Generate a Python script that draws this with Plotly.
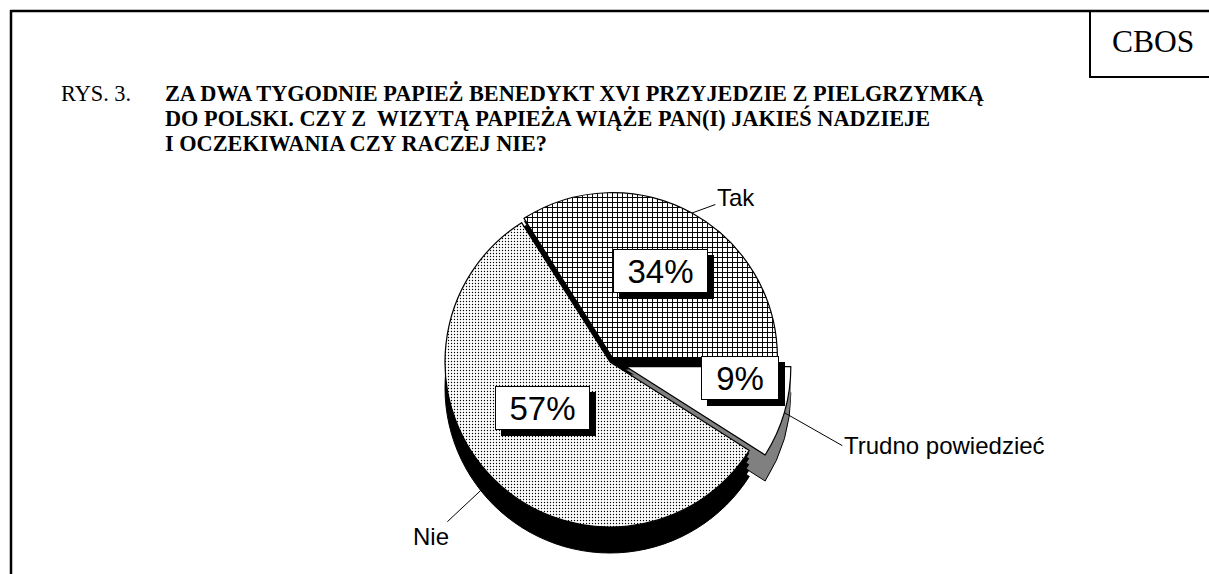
import math
import plotly.graph_objects as go

# ---------------- data ----------------
categories = ["Tak", "Nie", "Trudno powiedzieć"]
values = [34, 57, 9]
pulls = [0.03, 0.0, 0.10]
title_prefix = "RYS. 3."
title_lines = [
    "ZA DWA TYGODNIE PAPIEŻ BENEDYKT XVI PRZYJEDZIE Z PIELGRZYMKĄ",
    "DO POLSKI. CZY Z\u00a0 WIZYTĄ PAPIEŻA WIĄŻE PAN(I) JAKIEŚ NADZIEJE",
    "I OCZEKIWANIA CZY RACZEJ NIE?",
]
source_label = "CBOS"

# ---------------- layout helpers ----------------
W, H = 1209, 574
cx, cy, R = 610, 362, 165          # pie centre / radius in pixels
depth_shifts = [26, 20, 14, 8, 3]  # pseudo-3D side layers
maxpull = max(pulls)
half = R * (1 + maxpull)
total = sum(values)
# first slice (Tak) spans counter-clockwise from 3 o'clock
rotation = 90 - 360 * values[0] / total


def X(px):
    return px / W


def Y(py):
    return 1 - py / H


def dom(shift=0):
    return dict(x=[X(cx - half), X(cx + half)],
                y=[Y(cy + shift + half), Y(cy + shift - half)])


fig = go.Figure()

side_colors = ["black", "black", "#808080"]
for i, s in enumerate(depth_shifts):
    fig.add_trace(go.Pie(
        labels=categories, values=values, pull=pulls, sort=False,
        direction="counterclockwise", rotation=rotation, domain=dom(s),
        marker=dict(colors=side_colors,
                    line=dict(color="black", width=1 if i == 0 else 0)),
        textinfo="none", hoverinfo="skip", showlegend=False,
    ))

fig.add_trace(go.Pie(
    labels=categories, values=values, pull=pulls, sort=False,
    direction="counterclockwise", rotation=rotation, domain=dom(0),
    marker=dict(colors=["white", "white", "white"],
                line=dict(color="black", width=1.2),
                pattern=dict(shape=["+", ".", ""], fgcolor="black",
                             bgcolor="white", size=[5, 3, 8],
                             solidity=[0.35, 0.16, 0.3])),
    textinfo="none", hoverinfo="skip", showlegend=False,
))

# ---------------- annotations ----------------
ann = []
start = 0.0
label_offsets = {"Tak": (44, -16, "center"), "Nie": (-62, 58, "center"),
                 "Trudno powiedzieć": (58, 33, "left")}
pct_frac = [0.6, 0.58, 0.72]
for i, (cat, v) in enumerate(zip(categories, values)):
    span = v / total * 360
    mid = math.radians(start + span / 2)
    start += span
    # outside label with leader line
    rr = (1 + pulls[i]) * R
    tx, ty = cx + rr * math.cos(mid), cy - rr * math.sin(mid)
    ax, ay, xa = label_offsets[cat]
    ann.append(dict(x=X(tx), y=Y(ty), xref="paper", yref="paper", text=cat,
                    showarrow=True, arrowhead=0, arrowwidth=1, arrowcolor="black",
                    ax=ax, ay=ay, xanchor=xa,
                    font=dict(family="Liberation Sans", size=24, color="black")))
    # percentage box with shadow
    rp = (pulls[i] + pct_frac[i]) * R
    px, py = cx + rp * math.cos(mid), cy - rp * math.sin(mid)
    txt = f"{v}%"
    bw = 40 + 17 * len(txt)
    # shadow (empty box)
    ann.append(dict(x=X(px), y=Y(py), xref="paper", yref="paper", text="&nbsp;",
                    showarrow=False, width=bw, height=40, xshift=6, yshift=-6,
                    bgcolor="black", bordercolor="black", borderwidth=1,
                    font=dict(family="Liberation Sans", size=33, color="black")))
    ann.append(dict(x=X(px), y=Y(py), xref="paper", yref="paper", text=txt,
                    showarrow=False, width=bw, height=40,
                    bgcolor="white", bordercolor="black", borderwidth=1,
                    font=dict(family="Liberation Sans", size=33, color="black")))

# title
TFS = 22.3
ann.append(dict(x=X(59), y=Y(93), xref="paper", yref="paper", text=title_prefix,
                showarrow=False, xanchor="left", yanchor="middle",
                font=dict(family="Liberation Serif", size=TFS, color="black")))
for k, line in enumerate(title_lines):
    ann.append(dict(x=X(163), y=Y(93 + 25 * k), xref="paper", yref="paper",
                    text=f"<b>{line}</b>", showarrow=False, xanchor="left",
                    yanchor="middle",
                    font=dict(family="Liberation Serif", size=TFS, color="black")))
ann.append(dict(x=X(1153), y=Y(42), xref="paper", yref="paper", text=source_label,
                showarrow=False, xanchor="center", yanchor="middle",
                font=dict(family="Liberation Serif", size=31.5, color="black")))

shapes = [
    dict(type="line", xref="paper", yref="paper", x0=X(11), x1=X(11), y0=Y(10), y1=Y(H + 5),
         line=dict(color="black", width=2.5)),
    dict(type="line", xref="paper", yref="paper", x0=X(10), x1=X(W + 5), y0=Y(11), y1=Y(11),
         line=dict(color="black", width=2.5)),
    dict(type="line", xref="paper", yref="paper", x0=X(1090), x1=X(1090), y0=Y(11), y1=Y(77),
         line=dict(color="black", width=2)),
    dict(type="line", xref="paper", yref="paper", x0=X(1089), x1=X(W + 5), y0=Y(77), y1=Y(77),
         line=dict(color="black", width=2)),
]

fig.update_layout(
    width=W, height=H, margin=dict(l=0, r=0, t=0, b=0),
    paper_bgcolor="white", plot_bgcolor="white",
    annotations=ann, shapes=shapes, showlegend=False,
)

fig.write_html("out.html")
